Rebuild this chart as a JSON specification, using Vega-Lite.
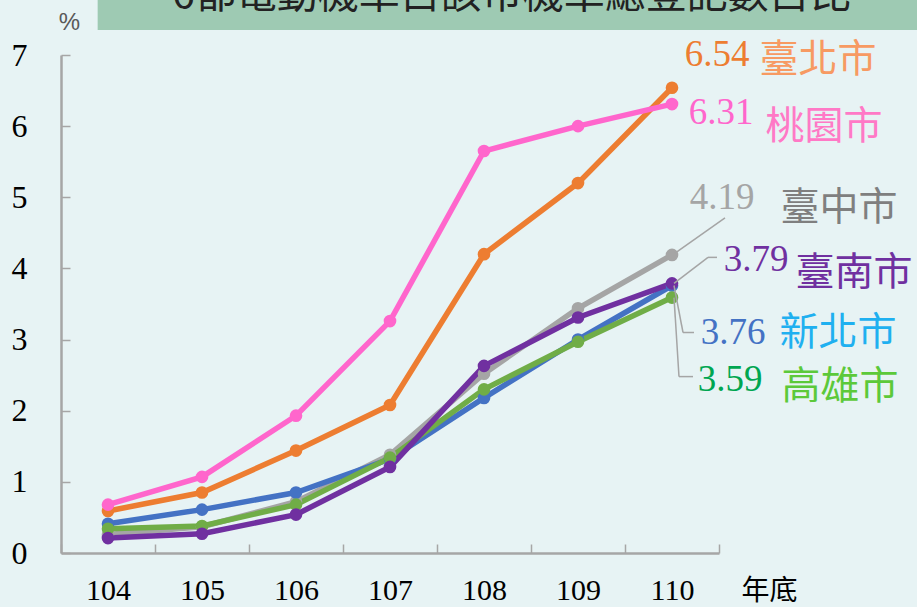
{
  "$schema": "https://vega.github.io/schema/vega-lite/v6.json",
  "autosize": {"type": "none"},
  "width": 658,
  "height": 498,
  "padding": {"left": 61, "top": 55, "right": 198, "bottom": 54},
  "background": "#e7f3f4",
  "config": {"view": {"stroke": null}},
  "data": {
    "values": [
      {"city": "臺中市", "year": "104", "value": 0.26},
      {"city": "臺中市", "year": "105", "value": 0.37},
      {"city": "臺中市", "year": "106", "value": 0.72},
      {"city": "臺中市", "year": "107", "value": 1.38},
      {"city": "臺中市", "year": "108", "value": 2.52},
      {"city": "臺中市", "year": "109", "value": 3.44},
      {"city": "臺中市", "year": "110", "value": 4.19},
      {"city": "新北市", "year": "104", "value": 0.41},
      {"city": "新北市", "year": "105", "value": 0.61},
      {"city": "新北市", "year": "106", "value": 0.85},
      {"city": "新北市", "year": "107", "value": 1.32},
      {"city": "新北市", "year": "108", "value": 2.18},
      {"city": "新北市", "year": "109", "value": 3.0},
      {"city": "新北市", "year": "110", "value": 3.76},
      {"city": "高雄市", "year": "104", "value": 0.34},
      {"city": "高雄市", "year": "105", "value": 0.38},
      {"city": "高雄市", "year": "106", "value": 0.68},
      {"city": "高雄市", "year": "107", "value": 1.34},
      {"city": "高雄市", "year": "108", "value": 2.3},
      {"city": "高雄市", "year": "109", "value": 2.97},
      {"city": "高雄市", "year": "110", "value": 3.59},
      {"city": "臺南市", "year": "104", "value": 0.21},
      {"city": "臺南市", "year": "105", "value": 0.27},
      {"city": "臺南市", "year": "106", "value": 0.54},
      {"city": "臺南市", "year": "107", "value": 1.21},
      {"city": "臺南市", "year": "108", "value": 2.63},
      {"city": "臺南市", "year": "109", "value": 3.31},
      {"city": "臺南市", "year": "110", "value": 3.79},
      {"city": "臺北市", "year": "104", "value": 0.59},
      {"city": "臺北市", "year": "105", "value": 0.85},
      {"city": "臺北市", "year": "106", "value": 1.44},
      {"city": "臺北市", "year": "107", "value": 2.08},
      {"city": "臺北市", "year": "108", "value": 4.2},
      {"city": "臺北市", "year": "109", "value": 5.2},
      {"city": "臺北市", "year": "110", "value": 6.54},
      {"city": "桃園市", "year": "104", "value": 0.68},
      {"city": "桃園市", "year": "105", "value": 1.07},
      {"city": "桃園市", "year": "106", "value": 1.93},
      {"city": "桃園市", "year": "107", "value": 3.26},
      {"city": "桃園市", "year": "108", "value": 5.65},
      {"city": "桃園市", "year": "109", "value": 6.0},
      {"city": "桃園市", "year": "110", "value": 6.31}
    ]
  },
  "encoding": {
    "x": {
      "field": "year", "type": "ordinal", "bandPosition": 0.5,
      "scale": {"type": "band", "paddingInner": 0, "paddingOuter": 0, "domain": ["104","105","106","107","108","109","110"]},
      "axis": {
        "title": "年底", "titleFont": "Noto Sans CJK TC", "titleFontSize": 28, "titleFontWeight": "normal",
        "titleColor": "#000000", "titleX": 708, "titleY": 38, "titleAlign": "center", "titleBaseline": "middle",
        "labelAngle": 0, "labelFont": "Liberation Serif", "labelFontSize": 30, "labelColor": "#000000",
        "labelBaseline": "middle", "labelPadding": 46,
        "tickBand": "extent", "tickSize": -9, "tickColor": "#a6a6a6", "tickWidth": 1.5,
        "domainColor": "#a6a6a6", "domainWidth": 2.5, "grid": false
      }
    },
    "y": {
      "field": "value", "type": "quantitative",
      "scale": {"domain": [0, 7], "nice": false},
      "axis": {
        "title": "%", "titleFont": "Liberation Sans", "titleFontSize": 24, "titleFontWeight": "normal",
        "titleColor": "#595959", "titleAngle": 0, "titleX": 8, "titleY": -33, "titleAlign": "center", "titleBaseline": "middle",
        "values": [0,1,2,3,4,5,6,7],
        "labelFont": "Liberation Serif", "labelFontSize": 32, "labelColor": "#000000",
        "labelPadding": 43, "tickSize": -9, "tickColor": "#a6a6a6", "tickWidth": 1.5,
        "domainColor": "#a6a6a6", "domainWidth": 2.5, "grid": false
      }
    },
    "color": {
      "field": "city", "type": "nominal", "legend": null,
      "scale": {
        "domain": ["臺中市","新北市","高雄市","臺南市","臺北市","桃園市"],
        "range": ["#a5a5a5","#4472c4","#70ad47","#7030a0","#ed7d31","#ff66cc"]
      }
    }
  },
  "layer": [
    {
      "transform": [{"filter": "datum.city === '臺北市' && datum.year === '110'"}],
      "mark": {"type": "rect", "color": "#9ecab3", "clip": false},
      "encoding": {
        "x": {"datum": "104", "bandPosition": 0.39},
        "x2": {"datum": "110", "bandPosition": 3.2},
        "y": {"datum": 7.35},
        "y2": {"datum": 8.2},
        "color": {"value": "#9ecab3"}
      }
    },
    {
      "transform": [{"filter": "datum.city === '臺北市' && datum.year === '110'"}],
      "mark": {"type": "text", "text": "6都電動機車占該市機車總登記數占比", "font": "Noto Sans CJK TC", "fontSize": 41, "align": "center", "baseline": "alphabetic", "clip": false},
      "encoding": {
        "x": {"datum": "108", "bandPosition": 0.79},
        "y": {"datum": 7.66},
        "color": {"value": "#222222"}
      }
    },
    {
      "mark": {"type": "line", "strokeWidth": 5.5}
    },
    {
      "mark": {"type": "point", "filled": true, "opacity": 1, "size": 160}
    },
    {
      "transform": [{"filter": "datum.city === '臺中市' && datum.year === '110'"}],
      "mark": {"type": "rule", "strokeWidth": 1.5, "xOffset": 2, "yOffset": -1, "x2Offset": 53, "y2Offset": -37},
      "encoding": {"x2": {"field": "year", "bandPosition": 0.5}, "y2": {"field": "value"}, "color": {"value": "#a5a5a5"}}
    },
    {
      "transform": [{"filter": "datum.city === '臺南市' && datum.year === '110'"}],
      "mark": {"type": "rule", "strokeWidth": 1.5, "xOffset": 2, "yOffset": 0, "x2Offset": 36, "y2Offset": -26},
      "encoding": {"x2": {"field": "year", "bandPosition": 0.5}, "y2": {"field": "value"}, "color": {"value": "#a5a5a5"}}
    },
    {
      "transform": [{"filter": "datum.city === '臺南市' && datum.year === '110'"}],
      "mark": {"type": "rule", "strokeWidth": 1.5, "xOffset": 36, "yOffset": -26, "x2Offset": 45, "y2Offset": -26},
      "encoding": {"x2": {"field": "year", "bandPosition": 0.5}, "y2": {"field": "value"}, "color": {"value": "#a5a5a5"}}
    },
    {
      "transform": [{"filter": "datum.city === '新北市' && datum.year === '110'"}],
      "mark": {"type": "rule", "strokeWidth": 1.5, "xOffset": 2, "yOffset": 0, "x2Offset": 11, "y2Offset": 47},
      "encoding": {"x2": {"field": "year", "bandPosition": 0.5}, "y2": {"field": "value"}, "color": {"value": "#a5a5a5"}}
    },
    {
      "transform": [{"filter": "datum.city === '新北市' && datum.year === '110'"}],
      "mark": {"type": "rule", "strokeWidth": 1.5, "xOffset": 11, "yOffset": 47, "x2Offset": 22, "y2Offset": 47},
      "encoding": {"x2": {"field": "year", "bandPosition": 0.5}, "y2": {"field": "value"}, "color": {"value": "#a5a5a5"}}
    },
    {
      "transform": [{"filter": "datum.city === '高雄市' && datum.year === '110'"}],
      "mark": {"type": "rule", "strokeWidth": 1.5, "xOffset": 2, "yOffset": 0, "x2Offset": 7, "y2Offset": 79},
      "encoding": {"x2": {"field": "year", "bandPosition": 0.5}, "y2": {"field": "value"}, "color": {"value": "#a5a5a5"}}
    },
    {
      "transform": [{"filter": "datum.city === '高雄市' && datum.year === '110'"}],
      "mark": {"type": "rule", "strokeWidth": 1.5, "xOffset": 7, "yOffset": 79, "x2Offset": 21, "y2Offset": 79},
      "encoding": {"x2": {"field": "year", "bandPosition": 0.5}, "y2": {"field": "value"}, "color": {"value": "#a5a5a5"}}
    },
    {
      "transform": [{"filter": "datum.city === '臺北市' && datum.year === '110'"}],
      "mark": {"type": "text", "font": "Liberation Serif", "fontSize": 37, "align": "center", "baseline": "middle", "dx": 45, "dy": -33},
      "encoding": {"text": {"field": "value", "format": ".2f"}, "color": {"value": "#ed7d31"}}
    },
    {
      "transform": [{"filter": "datum.city === '臺北市' && datum.year === '110'"}],
      "mark": {"type": "text", "font": "Noto Sans CJK TC", "fontSize": 39, "align": "center", "baseline": "middle", "dx": 146, "dy": -28},
      "encoding": {"text": {"field": "city"}, "color": {"value": "#f79a62"}}
    },
    {
      "transform": [{"filter": "datum.city === '桃園市' && datum.year === '110'"}],
      "mark": {"type": "text", "font": "Liberation Serif", "fontSize": 37, "align": "center", "baseline": "middle", "dx": 49, "dy": 9},
      "encoding": {"text": {"field": "value", "format": ".2f"}, "color": {"value": "#ff66cc"}}
    },
    {
      "transform": [{"filter": "datum.city === '桃園市' && datum.year === '110'"}],
      "mark": {"type": "text", "font": "Noto Sans CJK TC", "fontSize": 39, "align": "center", "baseline": "middle", "dx": 152, "dy": 23},
      "encoding": {"text": {"field": "city"}, "color": {"value": "#ff79c6"}}
    },
    {
      "transform": [{"filter": "datum.city === '臺中市' && datum.year === '110'"}],
      "mark": {"type": "text", "font": "Liberation Serif", "fontSize": 37, "align": "center", "baseline": "middle", "dx": 50, "dy": -57},
      "encoding": {"text": {"field": "value", "format": ".2f"}, "color": {"value": "#a5a5a5"}}
    },
    {
      "transform": [{"filter": "datum.city === '臺中市' && datum.year === '110'"}],
      "mark": {"type": "text", "font": "Noto Sans CJK TC", "fontSize": 39, "align": "center", "baseline": "middle", "dx": 167, "dy": -47},
      "encoding": {"text": {"field": "city"}, "color": {"value": "#7f7f7f"}}
    },
    {
      "transform": [{"filter": "datum.city === '臺南市' && datum.year === '110'"}],
      "mark": {"type": "text", "font": "Liberation Serif", "fontSize": 37, "align": "center", "baseline": "middle", "dx": 84, "dy": -23},
      "encoding": {"text": {"field": "value", "format": ".2f"}, "color": {"value": "#7030a0"}}
    },
    {
      "transform": [{"filter": "datum.city === '臺南市' && datum.year === '110'"}],
      "mark": {"type": "text", "font": "Noto Sans CJK TC", "fontSize": 39, "align": "center", "baseline": "middle", "dx": 182, "dy": -10},
      "encoding": {"text": {"field": "city"}, "color": {"value": "#7030a0"}}
    },
    {
      "transform": [{"filter": "datum.city === '新北市' && datum.year === '110'"}],
      "mark": {"type": "text", "font": "Liberation Serif", "fontSize": 37, "align": "center", "baseline": "middle", "dx": 61, "dy": 47},
      "encoding": {"text": {"field": "value", "format": ".2f"}, "color": {"value": "#4472c4"}}
    },
    {
      "transform": [{"filter": "datum.city === '新北市' && datum.year === '110'"}],
      "mark": {"type": "text", "font": "Noto Sans CJK TC", "fontSize": 39, "align": "center", "baseline": "middle", "dx": 166, "dy": 47},
      "encoding": {"text": {"field": "city"}, "color": {"value": "#1fb0f0"}}
    },
    {
      "transform": [{"filter": "datum.city === '高雄市' && datum.year === '110'"}],
      "mark": {"type": "text", "font": "Liberation Serif", "fontSize": 37, "align": "center", "baseline": "middle", "dx": 58, "dy": 82},
      "encoding": {"text": {"field": "value", "format": ".2f"}, "color": {"value": "#00a651"}}
    },
    {
      "transform": [{"filter": "datum.city === '高雄市' && datum.year === '110'"}],
      "mark": {"type": "text", "font": "Noto Sans CJK TC", "fontSize": 39, "align": "center", "baseline": "middle", "dx": 168, "dy": 89},
      "encoding": {"text": {"field": "city"}, "color": {"value": "#5cc93a"}}
    }
  ]
}
